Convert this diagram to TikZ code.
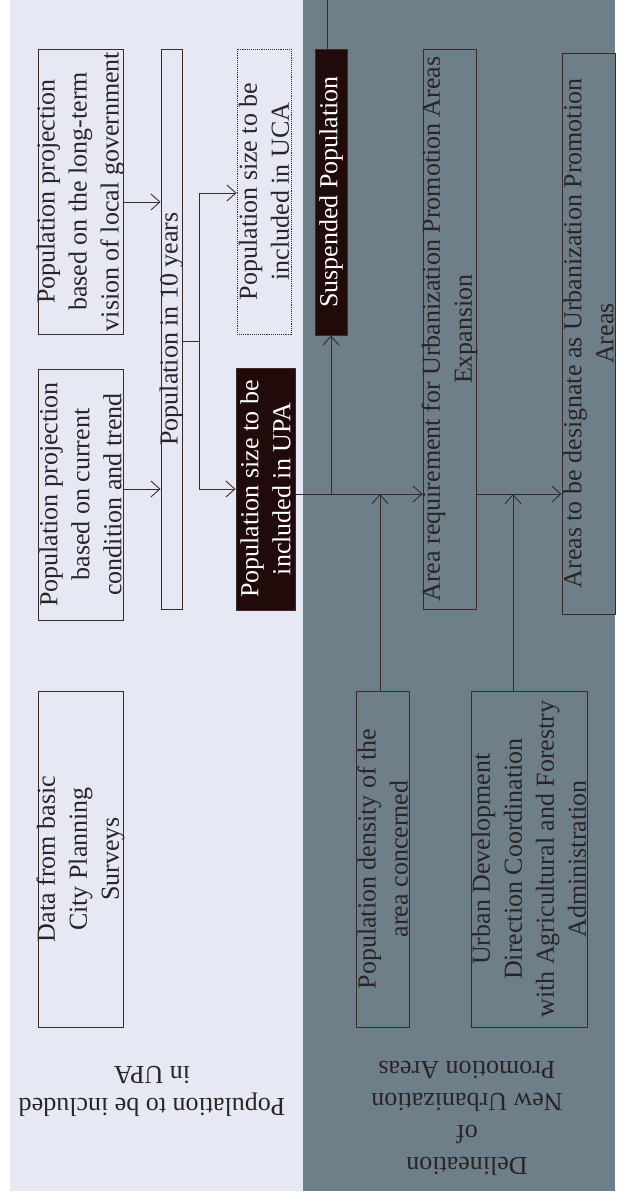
\documentclass[tikz,border=0pt]{standalone}
\usepackage{fontspec}
\setmainfont{Liberation Serif}
\usetikzlibrary{arrows.meta}
\definecolor{lightbg}{RGB}{230,232,244}
\definecolor{darkbg}{RGB}{110,127,137}
\definecolor{boxfill}{RGB}{32,10,10}
\definecolor{edge}{RGB}{58,42,42}
\definecolor{ink}{RGB}{42,36,38}

\begin{document}
\begin{tikzpicture}[x=1pt, y=-1pt,
  box/.style={draw=edge, line width=0.9pt, rotate=90, inner sep=0pt},
  dark/.style={box, fill=boxfill},
  txt/.style={rotate=90, align=center, inner sep=0pt, text=ink, font=\fontsize{26}{32}\selectfont},
  wtxt/.style={txt, text=white},
  head/.style={rotate=180, align=center, inner sep=0pt, text=ink, font=\fontsize{26}{32}\selectfont},
  ln/.style={draw=edge, line width=0.9pt},
  arr/.style={ln, -{Straight Barb[length=9pt,width=16pt]}}]
\useasboundingbox (0,0) rectangle (621,1196);

% the two bands
\fill[lightbg] (10,0) rectangle (303,1191);
\fill[darkbg] (303,0) rectangle (615,1191);

% population band
\node[box, minimum width=285pt, minimum height=85pt] (lt) at (80.5,191.5) {};
\node[txt] (lt-t) at (lt) {Population projection\\based on the long-term\\vision of local government};
\node[box, minimum width=251pt, minimum height=85pt] (cur) at (80.5,494.5) {};
\node[txt] (cur-t) at (cur) {Population projection\\based on current\\condition and trend};
\node[box, minimum width=336pt, minimum height=85pt] (data) at (80.5,859) {};
\node[txt] (data-t) at (data) {Data from basic\\City Planning\\Surveys};
\node[box, minimum width=560pt, minimum height=21pt] (p10) at (171.5,329) {};
\node[txt] (p10-t) at (p10) {Population in 10 years};
\node[box, densely dotted, minimum width=285pt, minimum height=54pt] (uca) at (264,191.5) {};
\node[txt] (uca-t) at (uca) {Population size to be\\included in UCA};
\node[dark, minimum width=242pt, minimum height=59pt] (upa) at (265.5,489) {};
\node[wtxt] (upa-t) at (upa) {Population size to be\\included in UPA};

% delineation band
\node[dark, minimum width=286pt, minimum height=32pt] (sus) at (331,192) {};
\node[wtxt] (sus-t) at (sus) {Suspended Population};
\node[box, minimum width=560pt, minimum height=53pt] (ar) at (449.5,329) {};
\node[txt] (ar-t) at (ar) {Area requirement for Urbanization Promotion Areas\\Expansion};
\node[box, minimum width=561pt, minimum height=53pt] (ad) at (588.5,333.5) {};
\node[txt] (ad-t) at (ad) {Areas to be designate as Urbanization Promotion\\Areas};
\node[box, minimum width=336pt, minimum height=53pt] (dens) at (382.5,859) {};
\node[txt] (dens-t) at (dens) {Population density of the\\area concerned};
\node[box, minimum width=336pt, minimum height=116pt] (urb) at (529,859) {};
\node[txt] (urb-t) at (urb) {Urban Development\\Direction Coordination\\with Agricultural and Forestry\\Administration};

% band headings
\node[head] (h1) at (152,1091) {Population to be included\\in UPA};
\node[head] (h2) at (467,1118) {Delineation\\of\\New Urbanization\\Promotion Areas};

% connectors
\coordinate (b1) at (199,193);
\coordinate (b2) at (199,489);
\coordinate (j1) at (331,494);
\coordinate (j2) at (380,494);
\coordinate (j3) at (513,494);
\coordinate (topout) at (327,0);

\draw[arr] (lt.south |- 0,202) -- (p10.north |- 0,202);
\draw[arr] (cur.south |- 0,489) -- (p10.north |- 0,489);
\draw[ln] (p10.south |- 0,341) -- (b1 |- 0,341);
\draw[ln] (b1) -- (b2);
\draw[arr] (b1) -- (uca.north |- b1);
\draw[arr] (b2) -- (upa.north |- b2);
\draw[arr] (upa.south |- j1) -- (ar.north |- j1);
\draw[arr] (j1) -- (sus.west);
\draw[ln] (sus.east -| topout) -- (topout);
\draw[arr] (j2 |- dens.east) -- (j2);
\draw[arr] (ar.south |- j3) -- (ad.north |- j3);
\draw[arr] (j3 |- urb.east) -- (j3);

\end{tikzpicture}
\end{document}
